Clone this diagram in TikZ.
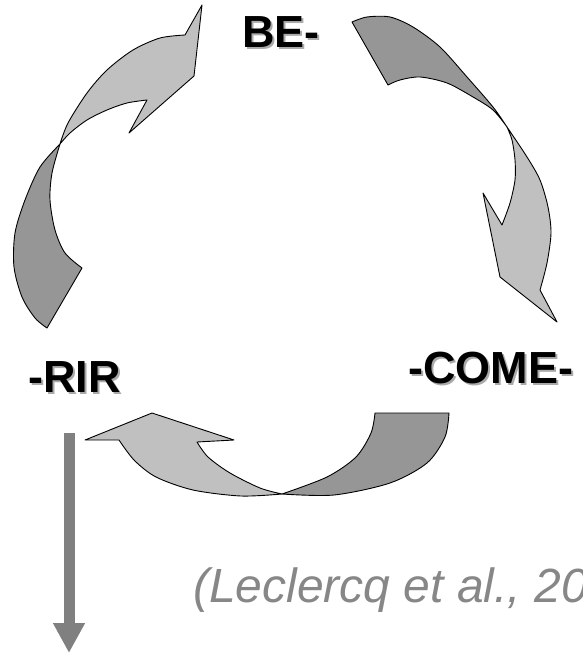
\documentclass[tikz,border=0pt]{standalone}
\usepackage{fontspec}
\setmainfont{Liberation Sans}
\usetikzlibrary{arrows.meta}
\definecolor{bandlight}{RGB}{192,192,192}
\definecolor{banddark}{RGB}{150,150,150}
\definecolor{outgray}{RGB}{128,128,128}
\definecolor{citegray}{RGB}{135,135,135}
\definecolor{textshadow}{RGB}{170,170,170}
\newcommand{\shadowed}[1]{\makebox[0pt][l]{\hspace{2pt}\raisebox{-2pt}{\textcolor{textshadow}{#1}}}#1}
\tikzset{
  lightband/.style={fill=bandlight,draw=black,line width=0.9pt,line join=round},
  darkband/.style={fill=banddark,draw=black,line width=0.9pt,line join=round},
  stage/.style={inner sep=0pt,anchor=base west,font=\fontsize{45}{54}\selectfont\bfseries},
}
\begin{document}
\begin{tikzpicture}[x=1pt,y=-1pt]
  \useasboundingbox (0,0) rectangle (582,655);
  % labels
  \node[stage] (be) at (242,48) {\shadowed{BE-}};
  \node[stage] (come) at (408,383) {\shadowed{-COME-}};
  \node[stage] (rir) at (28,392) {\shadowed{-RIR}};
  \node[inner sep=0pt,anchor=base west,text=citegray,font=\fontsize{48}{58}\selectfont\itshape] (cite) at (193,602) {(Leclercq et al., 20};
  % -RIR -> BE-
  \filldraw[darkband] plot[smooth] coordinates {(60,144) (40,167) (25,200) (15,233) (14,267) (22,297) (35,318) (47,328)}
    -- (82,268) -- plot[smooth] coordinates {(82,268) (65,253) (55,230) (50,200) (52,173) (60,144)} -- cycle;
  \filldraw[lightband] plot[smooth] coordinates {(60,144) (68,123) (87,93) (107,70) (133,50) (160,38) (185,35)}
    -- (202,5) -- (194,76) -- (129,133) -- (147,100)
    -- plot[smooth] coordinates {(147,100) (127,103) (107,110) (87,120) (70,133) (60,144)} -- cycle;
  % BE- -> -COME-
  \filldraw[darkband] plot[smooth] coordinates {(352,22) (367,17) (390,17) (413,27) (440,47) (467,77) (493,107) (507,127)}
    -- plot[smooth] coordinates {(507,127) (493,110) (473,97) (447,83) (420,77) (400,80) (388,85)} -- cycle;
  \filldraw[lightband] plot[smooth] coordinates {(507,127) (527,157) (540,180) (548,207) (551,233) (547,263) (540,290)}
    -- (557,322) -- (500,277) -- (483,193) -- (502,225)
    -- plot[smooth] coordinates {(502,225) (510,203) (515,180) (515,160) (512,140) (507,127)} -- cycle;
  % -COME- -> -RIR
  \filldraw[darkband] plot[smooth] coordinates {(282,494) (334,495) (390,483) (427,463) (445,437) (449,413)}
    -- (375,413) -- plot[smooth] coordinates {(375,413) (371,433) (356,457) (327,477) (282,494)} -- cycle;
  \filldraw[lightband] plot[smooth] coordinates {(119,440) (134,460) (156,477) (193,490) (241,496) (282,494)}
    -- plot[smooth] coordinates {(282,494) (260,488) (230,473) (208,457) (197,442)}
    -- (234,440) -- (152,413) -- (85,440) -- cycle;
  % way out
  \coordinate (outtop) at (69,433);
  \coordinate (outend) at (69,653);
  \draw[outgray,line width=11pt,-{Triangle[width=30pt,length=30pt]}] (outtop) -- (outend);
\end{tikzpicture}
\end{document}
